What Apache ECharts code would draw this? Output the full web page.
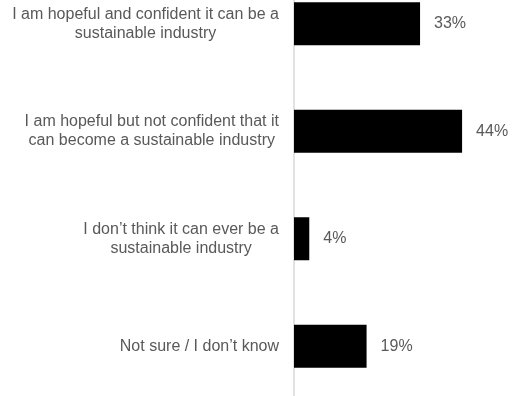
<!DOCTYPE html>
<html>
<head>
<meta charset="utf-8">
<style>
  html, body { margin: 0; padding: 0; background: #ffffff; }
  #chart { width: 512px; height: 396px; }
</style>
<script src="https://cdn.jsdelivr.net/npm/echarts@6/dist/echarts.min.js"></script>
</head>
<body>
<div id="chart"></div>
<script>
// Survey answers (each label split into its display lines) and their shares in percent
const categories = [
  ['I am hopeful and confident it can be a', 'sustainable industry'],
  ['I am hopeful but not confident that it', 'can become a sustainable industry'],
  ['I don\u2019t think it can ever be a', 'sustainable industry'],
  ['Not sure / I don\u2019t know']
];
const shares = [33, 44, 4, 19];

const chart = echarts.init(document.getElementById('chart'), null, { renderer: 'canvas' });

chart.setOption({
  animation: false,
  backgroundColor: '#ffffff',
  grid: {
    left: 294, right: 27, top: -30, bottom: -4,
    containLabel: false,
    outerBoundsMode: 'none'
  },
  xAxis: {
    type: 'value',
    min: 0,
    max: 50,
    show: false
  },
  yAxis: {
    type: 'category',
    inverse: true,
    data: categories.map((lines, i) => String(i)),
    axisLine: { show: true, lineStyle: { color: '#d9d9d9', width: 1.5 } },
    axisTick: { show: false },
    splitLine: { show: false },
    axisLabel: {
      margin: 15,
      align: 'right',
      fontFamily: 'Liberation Sans, Arial, sans-serif',
      fontSize: 16,
      lineHeight: 19,
      color: '#595959',
      // centre each line inside the label block, block itself right-aligned to the axis
      formatter: (v) => categories[+v].map(l => '{c|' + l + '}').join('\n'),
      rich: {
        c: {
          align: 'center',
          fontFamily: 'Liberation Sans, Arial, sans-serif',
          fontSize: 16,
          lineHeight: 19,
          color: '#595959'
        }
      }
    }
  },
  series: [{
    type: 'bar',
    data: shares,
    barWidth: 43,
    itemStyle: { color: '#000000' },
    label: {
      show: true,
      position: 'right',
      distance: 14,
      formatter: '{c}%',
      fontFamily: 'Liberation Sans, Arial, sans-serif',
      fontSize: 16,
      color: '#595959'
    }
  }]
});
</script>
</body>
</html>
